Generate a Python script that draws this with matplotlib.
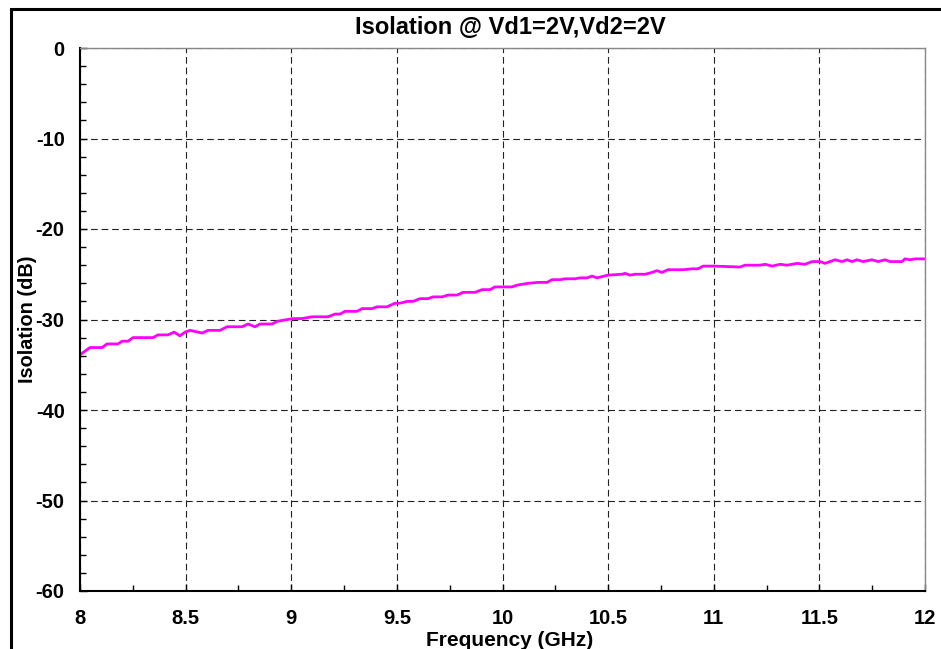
import numpy as np
import matplotlib
matplotlib.use("Agg")
import matplotlib.pyplot as plt
from matplotlib.patches import Rectangle
from matplotlib.ticker import MultipleLocator

plt.rcParams['font.family'] = ['Liberation Sans', 'DejaVu Sans']
plt.rcParams['font.weight'] = 'bold'
plt.rcParams['axes.unicode_minus'] = False

# isolation trace (GHz, dB)
freq = [8.000, 8.047, 8.104, 8.128, 8.180, 8.199, 8.227, 8.251, 8.346, 8.369,
        8.417, 8.445, 8.473, 8.497, 8.521, 8.578, 8.606, 8.663, 8.696, 8.767,
        8.795, 8.828, 8.852, 8.909, 8.933, 9.008, 9.050, 9.098, 9.174, 9.207,
        9.231, 9.254, 9.311, 9.335, 9.382, 9.406, 9.453, 9.491, 9.515, 9.548,
        9.576, 9.609, 9.647, 9.671, 9.714, 9.742, 9.785, 9.813, 9.870, 9.903,
        9.941, 9.964, 10.045, 10.069, 10.121, 10.168, 10.211, 10.234, 10.272, 10.296,
        10.343, 10.367, 10.400, 10.424, 10.447, 10.499, 10.566, 10.580, 10.604, 10.627,
        10.675, 10.708, 10.731, 10.755, 10.783, 10.854, 10.897, 10.925, 10.949, 10.996,
        11.124, 11.148, 11.219, 11.243, 11.276, 11.314, 11.347, 11.394, 11.432, 11.465,
        11.503, 11.527, 11.574, 11.607, 11.631, 11.654, 11.678, 11.706, 11.749, 11.778,
        11.811, 11.834, 11.891, 11.905, 11.929, 11.953, 12.000]
iso = [-33.9, -33.1, -33.1, -32.7, -32.7, -32.4, -32.4, -32.0, -32.0, -31.7,
       -31.7, -31.4, -31.8, -31.4, -31.2, -31.5, -31.2, -31.2, -30.8, -30.8,
       -30.5, -30.8, -30.5, -30.5, -30.2, -29.9, -29.9, -29.7, -29.7, -29.4,
       -29.4, -29.1, -29.1, -28.8, -28.8, -28.6, -28.6, -28.2, -28.2, -28.0,
       -28.0, -27.7, -27.7, -27.5, -27.5, -27.3, -27.3, -27.0, -27.0, -26.7,
       -26.7, -26.4, -26.4, -26.2, -26.0, -25.9, -25.9, -25.6, -25.6, -25.5,
       -25.5, -25.4, -25.4, -25.2, -25.4, -25.1, -25.0, -24.9, -25.1, -25.0,
       -25.0, -24.8, -24.6, -24.8, -24.5, -24.5, -24.4, -24.4, -24.1, -24.1,
       -24.2, -24.0, -24.0, -23.9, -24.1, -23.9, -24.0, -23.8, -23.9, -23.6,
       -23.6, -23.8, -23.4, -23.6, -23.4, -23.6, -23.4, -23.6, -23.4, -23.6,
       -23.4, -23.6, -23.6, -23.3, -23.4, -23.3, -23.3]

xticks = [8, 8.5, 9, 9.5, 10, 10.5, 11, 11.5, 12]
xticklabels = ["8", "8.5", "9", "9.5", "10", "10.5", "11", "11.5", "12"]
yticks = [0, -10, -20, -30, -40, -50, -60]

fig = plt.figure(figsize=(9.41, 6.49), dpi=100)
ax = fig.add_axes([80/941, 1-591/649, 845/941, 543/649])

ax.plot(freq, iso, color="#FF00FF", lw=2.0)

ax.set_xlim(8, 12)
ax.set_ylim(-60, 0)
ax.set_xticks(xticks)
ax.set_xticklabels(xticklabels)
ax.set_yticks(yticks)
ax.xaxis.set_minor_locator(MultipleLocator(0.25))
ax.yaxis.set_minor_locator(MultipleLocator(2))
ax.tick_params(which="both", direction="in", top=False, right=False,
               labelsize=14.5, width=1)
ax.tick_params(which="major", length=5)
ax.tick_params(which="minor", length=4)
ax.tick_params(axis="x", which="major", pad=13)
ax.tick_params(axis="y", which="major", pad=11)
for lab in ax.get_xticklabels() + ax.get_yticklabels():
    lab.set_fontweight("bold")

ax.grid(True, which="major", color="#222222", linestyle=(0, (6, 3.5)), lw=0.8)

for side in ("left", "bottom"):
    ax.spines[side].set_color("black")
    ax.spines[side].set_linewidth(1.5)
for side in ("top", "right"):
    ax.spines[side].set_color("#888888")
    ax.spines[side].set_linewidth(1)

ax.set_xlabel("Frequency (GHz)", fontsize=15, fontweight="bold")
ax.xaxis.set_label_coords(0.509, -0.0905)
ax.set_ylabel("Isolation (dB)", fontsize=14.3, fontweight="bold")
ax.yaxis.set_label_coords(-0.062, 0.5)
ax.xaxis.label.set_va("center")
ax.yaxis.label.set_va("center")
ax.text(0.509, 1.037, "Isolation @ Vd1=2V,Vd2=2V", transform=ax.transAxes,
        ha="center", va="center", fontsize=17, fontweight="bold")

# outer frame (only left/top edges fall inside the image)
fig.add_artist(Rectangle((10.5/941, -0.2), 1.5, (649-9.5)/649 + 0.2,
                         transform=fig.transFigure, fill=False,
                         edgecolor="black", lw=2.2, clip_on=False))

fig.savefig("out.png", dpi=100)
